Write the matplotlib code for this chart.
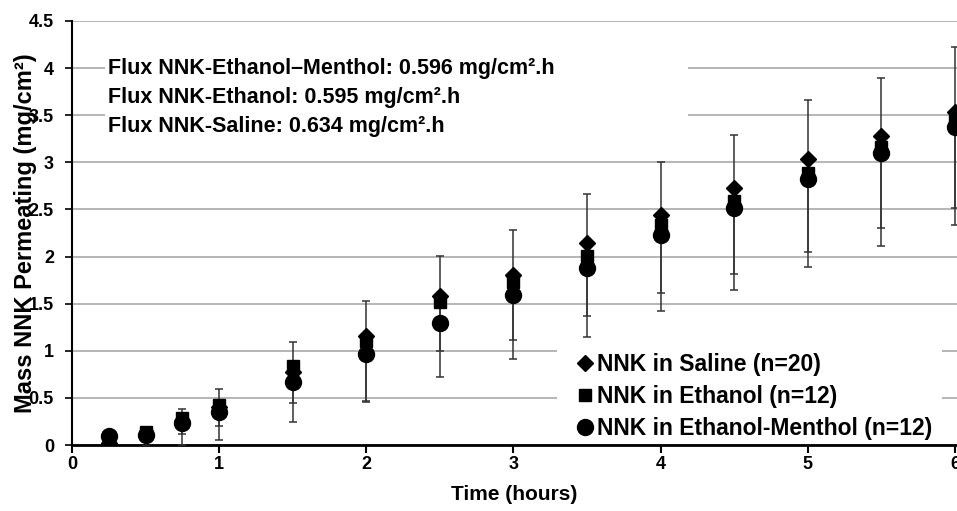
import matplotlib
matplotlib.use("Agg")
import matplotlib.pyplot as plt
from matplotlib.patches import Rectangle
from matplotlib.ticker import MultipleLocator, FormatStrFormatter

plt.rcParams['font.family'] = ['Liberation Sans', 'DejaVu Sans']
plt.rcParams['font.weight'] = 'bold'

# Data
time_h = [0.25, 0.5, 0.75, 1, 1.5, 2, 2.5, 3, 3.5, 4, 4.5, 5, 5.5, 6]
saline = [0.02, 0.12, 0.26, 0.40, 0.78, 1.16, 1.58, 1.80, 2.14, 2.44, 2.73, 3.04, 3.28, 3.53]
ethanol = [0.04, 0.14, 0.29, 0.43, 0.84, 1.10, 1.52, 1.73, 2.01, 2.33, 2.59, 2.89, 3.16, 3.44]
menthol = [0.10, 0.11, 0.23, 0.35, 0.67, 0.97, 1.30, 1.59, 1.88, 2.23, 2.52, 2.82, 3.10, 3.37]

# error bars (lower / upper) as they appear
menthol_err_lo = [0.03, 0.12, 0.11, 0.15, 0.22, 0.50, 0.30, 0.47, 0.51, 0.62, 0.70, 0.77, 0.80, 0.85]
menthol_err_hi = [0.03, 0.04, 0.15, 0.25, 0.42, 0.56, 0.71, 0.69, 0.78, 0.77, 0.77, 0.84, 0.79, 0.85]
ethanol_err_lo = [0.02, 0.05, 0.29, 0.38, 0.60, 0.64, 0.80, 0.82, 0.86, 0.91, 0.94, 1.00, 1.05, 1.10]

labels = ['NNK in Saline (n=20)', 'NNK in Ethanol (n=12)', 'NNK in Ethanol-Menthol (n=12)']
flux_lines = ['Flux NNK-Ethanol\u2013Menthol: 0.596 mg/cm\u00b2.h',
              'Flux NNK-Ethanol: 0.595 mg/cm\u00b2.h',
              'Flux NNK-Saline: 0.634 mg/cm\u00b2.h']

fig = plt.figure(figsize=(9.57, 5.11), dpi=100)
ax = fig.add_axes([0.0752, 0.129, 0.925, 0.830])

ecol = '#333333'
ax.errorbar(time_h, ethanol, yerr=[ethanol_err_lo, [0] * len(time_h)], fmt='none',
            ecolor=ecol, elinewidth=1.1, capsize=3, capthick=1.1, zorder=3)
ax.errorbar(time_h, menthol, yerr=[menthol_err_lo, menthol_err_hi], fmt='none',
            ecolor=ecol, elinewidth=1.1, capsize=3, capthick=1.1, zorder=3)

ax.plot(time_h, saline, 'D', color='black', ms=8.2, label=labels[0], zorder=4)
ax.plot(time_h, ethanol, 's', color='black', ms=9.2, label=labels[1], zorder=5)
ax.plot(time_h, menthol, 'o', color='black', ms=11.5, label=labels[2], zorder=6)

ax.set_xlim(0, 6.015)
ax.set_ylim(0, 4.5)
ax.xaxis.set_major_locator(MultipleLocator(1))
ax.yaxis.set_major_locator(MultipleLocator(0.5))
ax.yaxis.set_major_formatter(FormatStrFormatter('%g'))
ax.grid(axis='y', color='#b5b5b5', linewidth=1.4)
ax.set_axisbelow(True)

for s in ['top', 'right']:
    ax.spines[s].set_visible(False)
ax.spines['left'].set_linewidth(1.5)
ax.spines['bottom'].set_linewidth(2)
ax.tick_params(axis='x', direction='out', length=6, width=1.5, pad=2, labelsize=13)
ax.tick_params(axis='y', direction='out', length=5, width=1.2, pad=8, labelsize=13)

ax.set_xlabel('Time (hours)', fontsize=15, fontweight='bold')
ax.set_ylabel('Mass NNK Permeating (mg/cm\u00b2)', fontsize=17, fontweight='bold')
ax.xaxis.set_label_coords(0.5, -0.095)
ax.yaxis.set_label_coords(-0.040, 0.5)

# white backgrounds behind the text block and legend
ax.add_patch(Rectangle((0.037, 0.719), 0.659, 0.236, transform=ax.transAxes,
                       facecolor='white', edgecolor='none', zorder=1))
ax.add_patch(Rectangle((0.548, 0.012), 0.435, 0.236, transform=ax.transAxes,
                       facecolor='white', edgecolor='none', zorder=1))

for i, line in enumerate(flux_lines):
    ax.text(0.041, 0.887 - i * 0.068, line, transform=ax.transAxes, fontsize=15.5,
            fontweight='bold', va='center', ha='left', zorder=7)

leg = ax.legend(loc='lower left', bbox_to_anchor=(0.569, 0.012), frameon=False,
                borderaxespad=0, borderpad=0, handlelength=0.8, handletextpad=0.12,
                labelspacing=0.40, prop={'size': 16.5, 'weight': 'bold'})
leg.set_zorder(8)

fig.savefig('out.png', dpi=100)
